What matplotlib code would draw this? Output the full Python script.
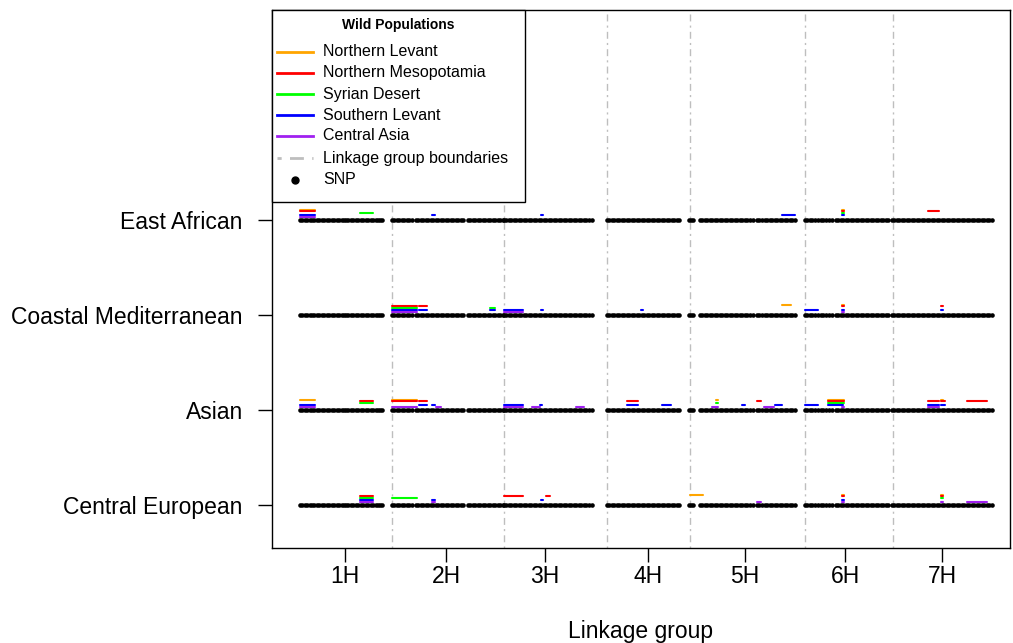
import matplotlib
matplotlib.use("Agg")
import matplotlib.pyplot as plt
from matplotlib.lines import Line2D
from matplotlib.patches import Rectangle

plt.rcParams['font.family'] = ['Liberation Sans', 'DejaVu Sans']

# Cultivated barley groups (rows, top to bottom)
groups = ["East African", "Coastal Mediterranean", "Asian", "Central European"]
group_y = [4, 3, 2, 1]

# Linkage groups: label positions and boundaries on the cumulative map
chromosomes = ["1H", "2H", "3H", "4H", "5H", "6H", "7H"]
chrom_mid = [45, 146, 245, 348, 445, 545, 642]
chrom_bounds = [92, 204, 307, 390, 505, 593]

# SNP positions on the cumulative map (shared by all rows)
snp_positions = [
    0, 2, 5, 7, 10, 12, 14, 17, 19, 22, 24, 27, 29, 32, 34, 37, 39, 42, 44, 46, 48,
    51, 53, 56, 58, 61, 63, 66, 68, 71, 73, 76, 78, 80, 82,
    92, 94, 97, 99, 102, 104, 107, 109, 112, 116, 118, 121, 123, 126, 128, 131, 133,
    136, 138, 141, 143, 146, 148, 151, 153, 156, 158, 161, 163, 168, 170, 173, 175,
    178, 180, 183, 185, 188, 190, 193, 195, 198, 200, 203,
    204, 206, 209, 211, 214, 216, 219, 221, 224, 226, 229, 231, 234, 236, 239, 241,
    244, 246, 249, 251, 254, 256, 259, 261, 264, 266, 269, 271, 274, 276, 279, 281,
    284, 286, 289, 292,
    307, 309, 312, 314, 317, 319, 322, 324, 327, 329, 332, 334, 337, 339, 342, 344,
    347, 349, 352, 354, 357, 359, 362, 364, 367, 369, 372, 374, 377, 379,
    389, 391, 393, 400, 402, 405, 407, 410, 412, 415, 417, 420, 422, 425, 427, 430,
    432, 435, 437, 440, 442, 445, 447, 450, 453, 457, 459, 462, 465, 467, 470, 472,
    475, 477, 480, 482, 485, 487, 490, 492, 495,
    505, 507, 510, 512, 515, 518, 521, 523, 526, 529, 532, 536, 538, 541, 543, 546,
    548, 551, 553, 556, 558, 561, 563, 566, 568, 571, 573, 576, 578, 581, 583, 586, 588,
    592, 594, 597, 599, 602, 604, 607, 609, 612, 614, 617, 619, 622, 624, 627, 629,
    632, 634, 637, 639, 642, 644, 647, 649, 652, 654, 657, 659, 662, 664, 667, 669,
    672, 674, 677, 679, 682, 684, 687, 689, 692,
]

# Wild populations, colours and the vertical offset of their tracks
populations = ["Northern Levant", "Northern Mesopotamia", "Syrian Desert",
               "Southern Levant", "Central Asia"]
pop_colors = ["#FFA500", "#FF0000", "#00FF00", "#0000FF", "#A020F0"]
pop_offsets = [0.11, 0.09, 0.07, 0.05, 0.03]

# Introgressed segments: (row, start, end) on the cumulative map
northern_levant = [
    ("East African", 0, 15), ("East African", 542, 544),
    ("Coastal Mediterranean", 482, 491), ("Coastal Mediterranean", 542, 544),
    ("Asian", 0, 15), ("Asian", 92, 117), ("Asian", 416, 418), ("Asian", 528, 544),
    ("Asian", 641, 643),
    ("Central European", 390, 403), ("Central European", 542, 544),
    ("Central European", 641, 643),
]
northern_mesopotamia = [
    ("East African", 0, 15), ("East African", 542, 544), ("East African", 628, 639),
    ("Coastal Mediterranean", 92, 117), ("Coastal Mediterranean", 119, 127),
    ("Coastal Mediterranean", 542, 544), ("Coastal Mediterranean", 641, 643),
    ("Asian", 60, 73), ("Asian", 92, 117), ("Asian", 119, 127), ("Asian", 327, 338),
    ("Asian", 457, 461), ("Asian", 528, 544), ("Asian", 628, 639), ("Asian", 641, 645),
    ("Asian", 667, 687),
    ("Central European", 60, 73), ("Central European", 204, 223),
    ("Central European", 246, 250), ("Central European", 542, 544),
    ("Central European", 641, 643),
]
syrian_desert = [
    ("East African", 60, 73), ("East African", 542, 544),
    ("Coastal Mediterranean", 92, 117), ("Coastal Mediterranean", 190, 195),
    ("Asian", 60, 73), ("Asian", 416, 418), ("Asian", 528, 544),
    ("Central European", 60, 73), ("Central European", 92, 117),
    ("Central European", 641, 643),
]
southern_levant = [
    ("East African", 0, 15), ("East African", 132, 135), ("East African", 241, 243),
    ("East African", 482, 495), ("East African", 542, 544),
    ("Coastal Mediterranean", 92, 117), ("Coastal Mediterranean", 119, 127),
    ("Coastal Mediterranean", 190, 195), ("Coastal Mediterranean", 204, 223),
    ("Coastal Mediterranean", 241, 243), ("Coastal Mediterranean", 341, 343),
    ("Coastal Mediterranean", 505, 518), ("Coastal Mediterranean", 542, 544),
    ("Coastal Mediterranean", 641, 643),
    ("Asian", 0, 15), ("Asian", 119, 127), ("Asian", 132, 135), ("Asian", 204, 223),
    ("Asian", 240, 242), ("Asian", 327, 338), ("Asian", 362, 371), ("Asian", 442, 445),
    ("Asian", 475, 482), ("Asian", 505, 518), ("Asian", 528, 543), ("Asian", 628, 639),
    ("Asian", 641, 645),
    ("Central European", 60, 73), ("Central European", 132, 135),
    ("Central European", 241, 243), ("Central European", 542, 544),
]
central_asia = [
    ("East African", 0, 15),
    ("Coastal Mediterranean", 92, 117), ("Coastal Mediterranean", 204, 223),
    ("Coastal Mediterranean", 542, 544),
    ("Asian", 0, 15), ("Asian", 92, 117), ("Asian", 136, 141), ("Asian", 204, 223),
    ("Asian", 232, 240), ("Asian", 276, 284), ("Asian", 412, 418), ("Asian", 464, 474),
    ("Asian", 542, 544), ("Asian", 628, 639),
    ("Central European", 60, 73), ("Central European", 132, 135),
    ("Central European", 457, 461), ("Central European", 542, 544),
    ("Central European", 641, 643), ("Central European", 667, 687),
]
segments = [northern_levant, northern_mesopotamia, syrian_desert,
            southern_levant, central_asia]

row_of = dict(zip(groups, group_y))
W, H = 1013, 643
boundary_style = (0, (1.5, 3, 5, 3))

fig = plt.figure(figsize=(W / 100, H / 100), dpi=100)
ax = fig.add_axes([272 / W, 1 - 548 / H, 738 / W, 538 / H])
ax.set_xlim(-28, 710)
ax.set_ylim(0.547, 6.21)

# Linkage group boundaries
for b in chrom_bounds:
    ax.axvline(b, color="#BEBEBE", lw=1.0, linestyle=boundary_style, zorder=1)

# SNP markers for each row
for y in group_y:
    ax.plot(snp_positions, [y] * len(snp_positions), linestyle="none", marker="o",
            markersize=3.3, markeredgewidth=0, color="black", zorder=2)

# Introgressed segments of each wild population
for segs, col, off in zip(segments, pop_colors, pop_offsets):
    for row, start, end in segs:
        y = row_of[row] + off
        ax.plot([start, end], [y, y], color=col, lw=1.5, solid_capstyle="round", zorder=3)

ax.set_yticks(group_y)
ax.set_yticklabels(groups)
ax.set_xticks(chrom_mid)
ax.set_xticklabels(chromosomes)
ax.tick_params(axis="y", length=10, width=1, pad=11, labelsize=16.5)
ax.tick_params(axis="x", length=10, width=1, pad=2.5, labelsize=16.5)
ax.set_xlabel("Linkage group", fontsize=16.5, labelpad=23)
for s in ax.spines.values():
    s.set_linewidth(1)


# Legend box in the top-left corner of the panel, laid out in figure pixels
def fpos(px, py):
    return px / W, 1 - py / H


x0, y0 = fpos(272, 10)
x1, y1 = fpos(525, 202)
fig.patches.append(Rectangle((x0, y1), x1 - x0, y0 - y1, transform=fig.transFigure,
                             facecolor="white", edgecolor="black", lw=1, zorder=10))
tx, ty = fpos(398, 25)
fig.text(tx, ty, "Wild Populations", ha="center", va="center", fontsize=10,
         fontweight="bold", zorder=11)

legend_labels = populations + ["Linkage group boundaries", "SNP"]
legend_rows = [52, 73, 94, 115, 136, 158, 180]
for i, (label, py) in enumerate(zip(legend_labels, legend_rows)):
    ha, va = fpos(277, py)
    hb, _ = fpos(313, py)
    if i < len(populations):
        fig.add_artist(Line2D([ha, hb], [va, va], color=pop_colors[i], lw=2,
                              transform=fig.transFigure, zorder=11))
    elif label == "SNP":
        hm, _ = fpos(295, py)
        fig.add_artist(Line2D([hm], [va], color="black", linestyle="none", marker="o",
                              markersize=5, transform=fig.transFigure, zorder=11))
    else:
        fig.add_artist(Line2D([ha, hb], [va, va], color="#BEBEBE", lw=2,
                              linestyle=boundary_style, transform=fig.transFigure,
                              zorder=11))
    lx, _ = fpos(323, py)
    fig.text(lx, va, label, ha="left", va="center", fontsize=11.5, zorder=11)

fig.savefig("out.png", dpi=100)
